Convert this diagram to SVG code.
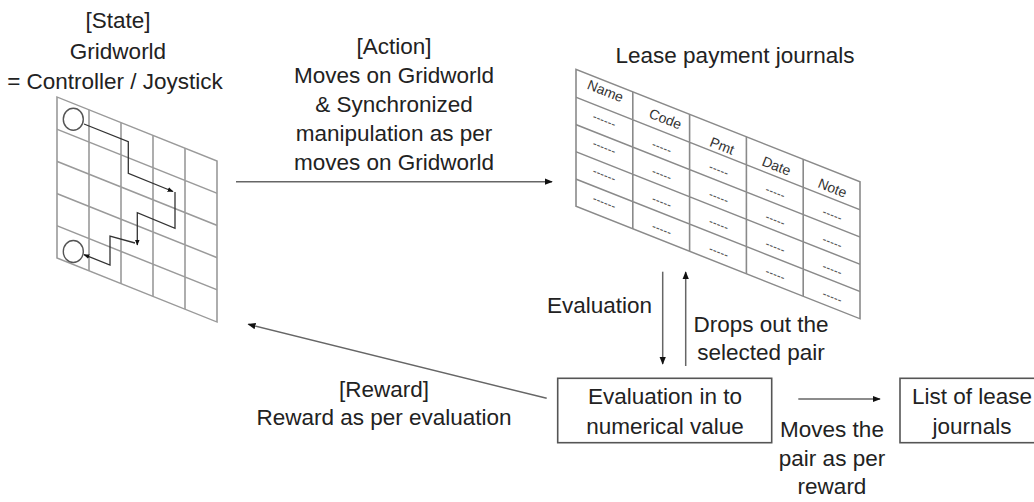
<svg xmlns="http://www.w3.org/2000/svg" width="1034" height="502" viewBox="0 0 1034 502">
<style>
text{font-family:"Liberation Sans",Arial,sans-serif;fill:#222;}
.lbl{font-size:22.5px;text-anchor:middle;}
.gl{stroke:#9a9a9a;stroke-width:1.6;fill:none;}
.tl{stroke:#8a8a8a;stroke-width:1.6;fill:none;}
.pth{stroke:#333;stroke-width:1.3;fill:none;}
.con{stroke:#666;stroke-width:1.5;fill:none;}
.box{stroke:#555;stroke-width:1.6;fill:#fff;}
.hd{font-size:14px;text-anchor:middle;dominant-baseline:middle;fill:#333;}
.dd{font-size:12px;text-anchor:middle;dominant-baseline:middle;fill:#555;}
</style>
<defs>
<marker id="ah" viewBox="0 0 10 10" refX="9" refY="5" markerWidth="8" markerHeight="8" markerUnits="userSpaceOnUse" orient="auto"><path d="M0,1 L10,5 L0,9 z" fill="#111"/></marker>
<marker id="ahs" viewBox="0 0 10 10" refX="9" refY="5" markerWidth="6" markerHeight="6" markerUnits="userSpaceOnUse" orient="auto"><path d="M0,1 L10,5 L0,9 z" fill="#111"/></marker>
</defs>
<rect width="1034" height="502" fill="#fff"/>

<g id="state">
<text class="lbl" x="118" y="28">[State]</text>
<text class="lbl" x="118" y="59">Gridworld</text>
<text class="lbl" x="115" y="89">= Controller / Joystick</text>
<g transform="translate(57,97) skewY(21.8)">
<rect class="gl" x="0" y="0" width="160" height="161"/>
<path class="gl" d="M32,0V161M64,0V161M96,0V161M128,0V161M0,32.2H160M0,64.4H160M0,96.6H160M0,128.8H160"/>
</g>
<ellipse cx="73.3" cy="119.3" rx="10" ry="11" fill="none" stroke="#555" stroke-width="1.4"/>
<ellipse cx="73.3" cy="251.5" rx="10" ry="11" fill="none" stroke="#555" stroke-width="1.4"/>
<path class="pth" d="M84,124 L128.3,141.7 L128.3,173.3 L173,191.5" marker-end="url(#ahs)"/>
<path class="pth" d="M175,192 L175,228.3 L137.3,212.7 L137.3,245" marker-end="url(#ahs)"/>
<path class="pth" d="M135,243 L110,236 L110,265 L84,254.6" marker-end="url(#ahs)"/>
</g>

<g id="journals">
<text class="lbl" x="735" y="63">Lease payment journals</text>
<g transform="translate(576,69.3) skewY(21.6)">
<rect class="tl" x="0" y="0" width="284" height="137"/>
<path class="tl" d="M56.8,0V137M113.6,0V137M170.4,0V137M227.2,0V137M0,28H284M0,55.3H284M0,82.5H284M0,109.8H284"/>
</g>
<text class="hd" x="605" y="92" transform="rotate(21.6 605 92)">Name</text>
<text class="hd" x="665" y="120" transform="rotate(21.6 665 120)">Code</text>
<text class="hd" x="721.7" y="147" transform="rotate(21.6 721.7 147)">Pmt</text>
<text class="hd" x="776" y="167" transform="rotate(21.6 776 167)">Date</text>
<text class="hd" x="832" y="189" transform="rotate(21.6 832 189)">Note</text>
<g>
<text class="dd" x="604" y="121" transform="rotate(21.6 604 121)">------</text>
<text class="dd" x="604" y="148" transform="rotate(21.6 604 148)">------</text>
<text class="dd" x="604" y="175.5" transform="rotate(21.6 604 175.5)">------</text>
<text class="dd" x="604" y="203" transform="rotate(21.6 604 203)">------</text>
<text class="dd" x="661.5" y="148" transform="rotate(21.6 661.5 148)">-----</text>
<text class="dd" x="661.5" y="175" transform="rotate(21.6 661.5 175)">-----</text>
<text class="dd" x="661.5" y="202.5" transform="rotate(21.6 661.5 202.5)">-----</text>
<text class="dd" x="661.5" y="230" transform="rotate(21.6 661.5 230)">-----</text>
<text class="dd" x="718.5" y="170.5" transform="rotate(21.6 718.5 170.5)">-----</text>
<text class="dd" x="718.5" y="198" transform="rotate(21.6 718.5 198)">-----</text>
<text class="dd" x="718.5" y="225" transform="rotate(21.6 718.5 225)">-----</text>
<text class="dd" x="718.5" y="252.5" transform="rotate(21.6 718.5 252.5)">-----</text>
<text class="dd" x="775" y="193" transform="rotate(21.6 775 193)">-----</text>
<text class="dd" x="775" y="220.5" transform="rotate(21.6 775 220.5)">-----</text>
<text class="dd" x="775" y="247.5" transform="rotate(21.6 775 247.5)">-----</text>
<text class="dd" x="775" y="275" transform="rotate(21.6 775 275)">-----</text>
<text class="dd" x="832" y="215.5" transform="rotate(21.6 832 215.5)">-----</text>
<text class="dd" x="832" y="243" transform="rotate(21.6 832 243)">-----</text>
<text class="dd" x="832" y="270" transform="rotate(21.6 832 270)">-----</text>
<text class="dd" x="832" y="297.5" transform="rotate(21.6 832 297.5)">-----</text>
</g>
</g>

<g id="evalbox">
<rect class="box" x="557.7" y="378.3" width="214" height="64.4"/>
<text class="lbl" x="665" y="404">Evaluation in to</text>
<text class="lbl" x="665" y="434">numerical value</text>
</g>

<g id="listbox">
<rect class="box" x="900" y="378.3" width="150" height="64.4"/>
<text class="lbl" x="972" y="404">List of lease</text>
<text class="lbl" x="972" y="434">journals</text>
</g>

<g id="connectors">
<line class="con" x1="236" y1="181.7" x2="552" y2="181.7" marker-end="url(#ah)"/>
<line class="con" x1="662.7" y1="271.7" x2="662.7" y2="364" marker-end="url(#ah)"/>
<line class="con" x1="685.7" y1="366" x2="685.7" y2="272" marker-end="url(#ah)"/>
<line class="con" x1="546.7" y1="398.3" x2="248.3" y2="324.3" marker-end="url(#ah)"/>
<line class="con" x1="798.3" y1="399" x2="880" y2="399" marker-end="url(#ah)"/>
</g>

<g id="labels">
<text class="lbl" x="394" y="54">[Action]</text>
<text class="lbl" x="394" y="83">Moves on Gridworld</text>
<text class="lbl" x="394" y="112">&amp; Synchronized</text>
<text class="lbl" x="394" y="141">manipulation as per</text>
<text class="lbl" x="394" y="170">moves on Gridworld</text>
<text class="lbl" x="652" y="313" style="text-anchor:end">Evaluation</text>
<text class="lbl" x="761" y="332">Drops out the</text>
<text class="lbl" x="761" y="360">selected pair</text>
<text class="lbl" x="384" y="397">[Reward]</text>
<text class="lbl" x="384" y="425">Reward as per evaluation</text>
<text class="lbl" x="832" y="437">Moves the</text>
<text class="lbl" x="832" y="466">pair as per</text>
<text class="lbl" x="832" y="494">reward</text>
</g>
</svg>
